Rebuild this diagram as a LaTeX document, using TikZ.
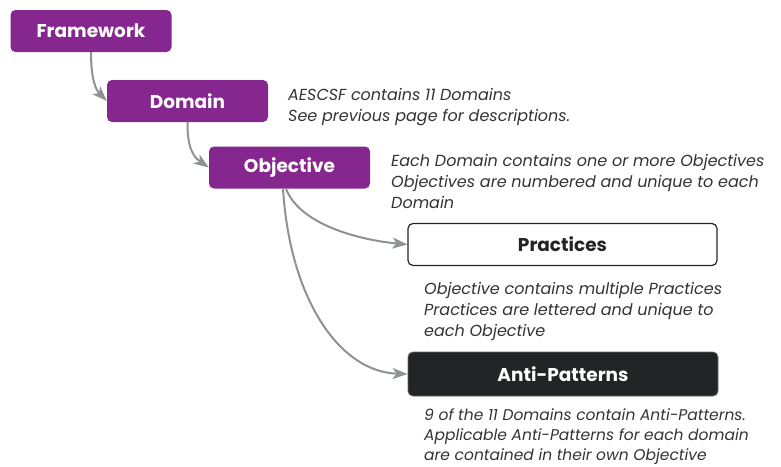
\documentclass[tikz,border=0pt]{standalone}
\usepackage{fontspec}
\setmainfont{Poppins}
\usetikzlibrary{arrows.meta}
\definecolor{purp}{HTML}{86268F}
\definecolor{dark}{HTML}{232425}
\definecolor{arr}{HTML}{8E9293}
\definecolor{txt}{HTML}{333333}
\tikzset{
  box/.style={rounded corners=5pt, minimum height=42pt, font=\fontsize{18.5}{20}\selectfont\bfseries, inner sep=0pt},
  pbox/.style={box, fill=purp, text=white, minimum width=161pt},
  conn/.style={draw=arr, line width=2pt, -{Stealth[length=15pt,width=11pt,inset=4pt]}},
  note/.style={anchor=north west, align=left, font=\fontsize{16}{21}\selectfont\itshape, text=txt, inner sep=0pt}
}
\begin{document}
\begin{tikzpicture}[x=1pt,y=-1pt]
\useasboundingbox (0,0) rectangle (781,466);
\node[pbox] (fw) at (91,31) {Framework};
\node[pbox] (dom) at (187.5,101) {Domain};
\node[pbox] (obj) at (289.5,167.5) {Objective};
\node[box, draw=dark, line width=1.2pt, fill=white, text=dark, minimum width=309pt] (pr) at (562.5,244.5) {Practices};
\node[box, fill=dark, draw=black!60, line width=0.8pt, text=white, minimum width=310pt, minimum height=44pt] (ap) at (563,374) {Anti-Patterns};
\node[note] (n1) at (288,88) {AESCSF contains 11 Domains\\See previous page for descriptions.};
\node[note] (n2) at (391,154) {Each Domain contains one or more Objectives\\Objectives are numbered and unique to each\\Domain};
\node[note] (n3) at (424,282) {Objective contains multiple Practices\\Practices are lettered and unique to\\each Objective};
\node[note, font=\fontsize{15.5}{20}\selectfont\itshape] (n4) at (424,408) {9 of the 11 Domains contain Anti-Patterns.\\Applicable Anti-Patterns for each domain\\are contained in their own Objective};
\draw[conn] (fw.south) .. controls (91,80) and (96,90) .. (dom.west);
\draw[conn] (dom.south) .. controls (187,150) and (195,158) .. (obj.west);
\draw[conn] (obj.south -| 286,0) .. controls (300,225) and (360,240) .. (pr.west);
\draw[conn] (obj.south -| 283,0) .. controls (290,300) and (340,372) .. (ap.west);
\end{tikzpicture}
\end{document}
